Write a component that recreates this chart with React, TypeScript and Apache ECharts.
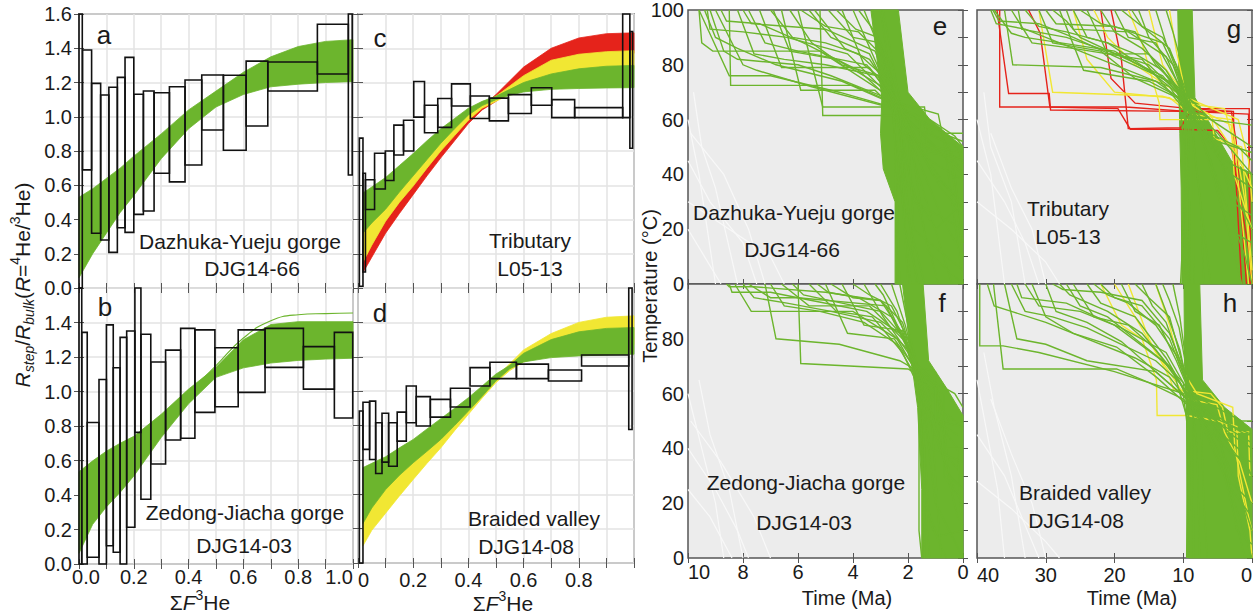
import React, { useEffect, useRef } from 'react';
import * as echarts from 'echarts';

// ---------------- Ratio-evolution panels (a–d) ----------------
const F_AB = [0, 0.05, 0.1, 0.15, 0.2, 0.3, 0.4, 0.5, 0.6, 0.7, 0.8, 0.9, 1.0];
const A_GREEN_UP = [0.53, 0.58, 0.64, 0.7, 0.77, 0.9, 1.04, 1.15, 1.26, 1.35, 1.41, 1.44, 1.45];
const A_GREEN_LO = [0.06, 0.2, 0.32, 0.44, 0.54, 0.755, 0.93, 1.057, 1.13, 1.175, 1.19, 1.2, 1.205];
const B_GREEN_UP = [0.535, 0.598, 0.654, 0.7, 0.74, 0.868, 1.014, 1.14, 1.3, 1.388, 1.405, 1.405, 1.405];
const B_GREEN_LO = [0.062, 0.23, 0.331, 0.415, 0.51, 0.733, 0.929, 1.082, 1.137, 1.165, 1.18, 1.188, 1.193];
const B_OUTLIER = [[0.45, 1.07], [0.5, 1.15], [0.6, 1.31], [0.7, 1.41], [0.8, 1.445], [0.9, 1.452], [1.0, 1.455]];

const F_CD = [0.018, 0.05, 0.1, 0.15, 0.2, 0.25, 0.3, 0.35, 0.4, 0.45, 0.5, 0.55, 0.6, 0.7, 0.8, 0.9, 1.0];
const C_RED_UP = [0.2, 0.28, 0.42, 0.53, 0.63, 0.73, 0.83, 0.92, 1.0, 1.06, 1.13, 1.21, 1.29, 1.4, 1.46, 1.485, 1.49];
const C_RED_LO = [0.09, 0.18, 0.32, 0.435, 0.545, 0.655, 0.76, 0.86, 0.96, 1.04, 1.09, 1.15, 1.2, 1.29, 1.34, 1.36, 1.37];
const C_YEL_UP = [0.36, 0.42, 0.5, 0.59, 0.68, 0.78, 0.87, 0.95, 1.03, 1.08, 1.12, 1.18, 1.24, 1.33, 1.365, 1.38, 1.386];
const C_YEL_LO = [0.15, 0.25, 0.39, 0.5, 0.595, 0.7, 0.8, 0.89, 0.98, 1.05, 1.09, 1.13, 1.17, 1.22, 1.25, 1.27, 1.28];
const C_GRN_UP = [0.555, 0.59, 0.645, 0.715, 0.785, 0.86, 0.93, 0.99, 1.05, 1.09, 1.12, 1.16, 1.2, 1.25, 1.28, 1.295, 1.3];
const C_GRN_LO = [0.32, 0.38, 0.46, 0.56, 0.655, 0.75, 0.845, 0.93, 1.01, 1.065, 1.1, 1.125, 1.145, 1.16, 1.165, 1.168, 1.17];
const D_YEL_UP = [0.4, 0.45, 0.52, 0.6, 0.66, 0.72, 0.78, 0.85, 0.93, 1.0, 1.08, 1.16, 1.24, 1.335, 1.4, 1.43, 1.438];
const D_YEL_LO = [0.1, 0.19, 0.29, 0.39, 0.486, 0.58, 0.67, 0.77, 0.865, 0.96, 1.05, 1.12, 1.17, 1.22, 1.25, 1.26, 1.27];
const D_GRN_UP = [0.555, 0.58, 0.618, 0.67, 0.719, 0.78, 0.84, 0.9, 0.962, 1.03, 1.1, 1.15, 1.22, 1.3, 1.345, 1.365, 1.37];
const D_GRN_LO = [0.23, 0.32, 0.427, 0.51, 0.583, 0.65, 0.719, 0.8, 0.884, 0.97, 1.06, 1.13, 1.17, 1.195, 1.205, 1.21, 1.215];

// step boxes: [F start, F end, R low, R high]
const BOXES_A = [
  [0, 0.012, 0, 1.62], [0.013, 0.046, 0.69, 1.39], [0.046, 0.079, 0.32, 1.195], [0.079, 0.109, 0.28, 1.127],
  [0.109, 0.14, 0.208, 1.172], [0.14, 0.168, 0.352, 1.23], [0.168, 0.2, 0.325, 1.347], [0.2, 0.235, 0.43, 1.131],
  [0.235, 0.274, 0.45, 1.15], [0.274, 0.33, 0.67, 1.14], [0.33, 0.387, 0.62, 1.175], [0.387, 0.448, 0.718, 1.215],
  [0.448, 0.527, 0.923, 1.244], [0.527, 0.61, 0.804, 1.242], [0.61, 0.689, 0.946, 1.325], [0.689, 0.87, 1.15, 1.32],
  [0.87, 0.983, 1.25, 1.54], [0.983, 0.997, 0.66, 1.62],
];
const BOXES_B = [
  [0, 0.01, 0, 1.62], [0.01, 0.03, 0, 1.343], [0.03, 0.073, 0.039, 0.82], [0.073, 0.1, 0, 1.07],
  [0.1, 0.125, 0.106, 1.386], [0.125, 0.15, 0.068, 1.138], [0.15, 0.174, 0, 1.314], [0.174, 0.204, 0.213, 1.351],
  [0.204, 0.226, 0.763, 1.7], [0.226, 0.262, 0.375, 1.332], [0.262, 0.316, 0.58, 1.171], [0.316, 0.371, 0.719, 1.24],
  [0.371, 0.423, 0.729, 1.366], [0.423, 0.496, 0.879, 1.357], [0.496, 0.581, 0.912, 1.254], [0.581, 0.679, 0.995, 1.357],
  [0.679, 0.819, 1.14, 1.366], [0.819, 0.932, 1.014, 1.26], [0.932, 0.999, 0.846, 1.343],
];
const BOXES_C = [
  [0.005, 0.018, 0.01, 0.875], [0.018, 0.027, 0.093, 0.67], [0.027, 0.06, 0.458, 0.632], [0.06, 0.099, 0.578, 0.787],
  [0.099, 0.13, 0.628, 0.8], [0.13, 0.165, 0.777, 0.951], [0.165, 0.202, 0.8, 0.98], [0.202, 0.241, 0.998, 1.206],
  [0.241, 0.289, 0.907, 1.067], [0.289, 0.339, 0.938, 1.107], [0.339, 0.407, 1.063, 1.192], [0.407, 0.476, 0.99, 1.121],
  [0.476, 0.545, 0.976, 1.109], [0.545, 0.628, 1.019, 1.129], [0.628, 0.702, 1.067, 1.169], [0.702, 0.785, 0.995, 1.1],
  [0.785, 0.959, 0.995, 1.053], [0.959, 0.985, 0.995, 1.62], [0.985, 0.995, 0.816, 1.497],
];
const BOXES_D = [
  [0.005, 0.018, 0, 0.884], [0.018, 0.042, 0.661, 0.935], [0.042, 0.064, 0.602, 0.942], [0.064, 0.087, 0.521, 0.816],
  [0.087, 0.111, 0.587, 0.871], [0.111, 0.142, 0.563, 0.816], [0.142, 0.175, 0.709, 0.878], [0.175, 0.211, 0.816, 1.03],
  [0.211, 0.262, 0.797, 0.968], [0.262, 0.335, 0.849, 0.952], [0.335, 0.406, 0.908, 1.017], [0.406, 0.478, 1.03, 1.137],
  [0.478, 0.574, 1.073, 1.168], [0.574, 0.69, 1.073, 1.157], [0.69, 0.81, 1.059, 1.123], [0.81, 0.981, 1.146, 1.21],
  [0.981, 0.993, 0.777, 1.62],
];

// ---------------- Thermal-history panels (e–h): [time Ma, temperature °C] ----------------
const E_CORE = [[3.35, 100], [2.35, 100], [2.0, 70], [1.2, 60], [0, 50], [0, 0], [2.47, 0], [2.47, 30], [2.9, 42], [3.0, 55], [2.95, 68]];
const E_GREEN = [
  [[9.6, 100], [9.5, 88], [9.1, 85], [5.2, 85], [2.6, 68], [2.2, 30], [1.9, 0]],
  [[9.6, 100], [8.5, 76], [7.0, 76], [4.5, 70], [2.4, 64], [1.0, 50], [0, 48]],
  [[8.5, 100], [8.45, 72.5], [4.0, 72.5], [2.5, 66], [2.3, 0]],
  [[7.8, 100], [7.2, 88], [6.0, 85], [3.5, 80], [2.4, 66], [0.5, 50], [0, 10]],
  [[7.4, 100], [6.6, 79], [3.4, 79], [2.3, 64], [1.2, 60], [0.3, 54], [0, 50]],
  [[6.6, 100], [5.9, 70.7], [3.2, 70.7], [2.3, 62], [0.4, 0]],
  [[6.0, 100], [5.1, 64.6], [1.4, 64.6], [1.3, 55], [0.7, 53], [0, 0]],
  [[5.2, 100], [5.1, 61.5], [2.4, 61.5], [2.1, 38], [1.0, 20], [0, 30]],
  [[4.9, 100], [4.0, 90], [3.0, 88], [2.5, 70], [2.2, 50], [0.9, 0]],
  [[4.4, 100], [3.6, 80], [2.6, 72], [2.3, 62], [1.8, 30], [0, 20]],
  [[4.0, 100], [2.9, 75], [2.3, 66], [0.9, 62], [0.7, 52], [0, 40]],
  [[3.6, 100], [3.0, 85], [2.5, 68], [2.0, 60], [1.3, 12], [0, 0]],
  [[3.3, 100], [2.6, 65], [2.0, 58], [0.2, 50], [0, 44]],
  [[9.0, 100], [8.0, 80], [7.5, 78], [5.5, 72], [2.5, 64], [2.4, 0]],
  [[8.0, 100], [7.7, 95], [5.0, 93], [3.2, 85], [2.2, 60], [0.8, 25], [0, 10]],
  [[2.9, 100], [2.4, 72], [2.0, 58], [1.8, 20], [0, 5]],
  [[6.9, 100], [6.3, 85], [4.6, 82], [2.6, 70], [2.4, 40], [1.4, 0]],
  [[5.6, 100], [4.8, 90], [3.4, 84], [2.5, 66], [1.6, 55], [0, 40]],
  [[3.0, 100], [2.7, 80], [2.2, 58], [1.2, 45], [0, 38]],
  [[9.3, 100], [9.2, 93], [8.0, 92], [6.4, 90], [4.2, 84], [2.5, 67], [1.4, 62], [1.3, 48], [0, 46]],
  [[9.4, 100], [9.0, 90], [8.2, 86], [6.8, 80], [4.4, 74], [2.6, 66], [2.3, 45], [2.0, 0]],
  [[8.8, 100], [8.6, 96], [7.4, 95], [5.8, 88], [3.8, 78], [2.5, 66], [1.5, 58], [0, 52]],
  [[7.0, 100], [6.2, 90], [5.0, 88], [3.8, 84], [2.7, 74], [2.3, 58], [1.7, 0]],
  [[6.3, 100], [5.5, 88], [4.4, 80], [3.0, 76], [2.4, 64], [0.6, 55], [0, 55]],
  [[5.9, 100], [5.0, 94], [3.8, 92], [2.8, 82], [2.3, 66], [2.1, 20], [1.6, 0]],
  [[4.6, 100], [3.9, 93], [3.1, 90], [2.6, 75], [2.2, 62], [1.1, 40], [0, 30]],
  [[8.2, 100], [7.6, 84], [6.5, 82], [5.0, 80], [3.1, 76], [2.4, 63], [0.8, 35], [0, 25]],
  [[9.2, 100], [8.7, 85], [8.2, 82], [6.0, 80], [4.8, 76], [2.8, 68], [2.2, 55], [1.2, 50], [0.4, 48], [0, 15]],
  [[3.8, 100], [3.2, 92], [2.6, 80], [2.2, 65], [1.5, 48], [0.2, 30], [0, 28]],
  [[5.4, 100], [4.3, 86], [3.4, 82], [2.6, 70], [2.1, 62], [1.6, 60], [1.5, 50], [0, 45]],
];
const E_PALE = [
  [[10, 60], [9.6, 40], [9.3, 20], [9.0, 0]], [[10, 45], [9.2, 30], [8.0, 15], [7.5, 0]],
  [[10, 30], [8.5, 20], [7.0, 10], [6.5, 0]], [[9.8, 70], [9.5, 50], [9.0, 35], [8.2, 0]],
  [[10, 20], [9.4, 10], [8.8, 0]], [[9.9, 55], [8.7, 40], [7.8, 20], [7.2, 0]],
];
const F_CORE = [[2.2, 100], [1.45, 100], [1.25, 72], [0.6, 62], [0, 52], [0, 0], [1.5, 0], [1.5, 25], [1.65, 55], [1.85, 70]];
const F_GREEN = [
  [[8.5, 100], [8.4, 97], [7.0, 97], [5.5, 94], [3.5, 90], [2.0, 80], [1.6, 65], [1.3, 10], [1.2, 0]],
  [[8.3, 100], [7.7, 90], [4.0, 90], [2.4, 80], [1.7, 68], [0.9, 62], [0.8, 40], [0, 30]],
  [[7.2, 100], [6.8, 80], [4.5, 78], [2.3, 72], [1.6, 68], [1.2, 13], [0.6, 0]],
  [[6.0, 100], [5.9, 71], [2.0, 69], [1.5, 66], [0.5, 50], [0, 50]],
  [[5.6, 100], [4.6, 90], [3.3, 88], [2.2, 75], [1.5, 60], [1.0, 20], [0, 0]],
  [[5.0, 100], [4.2, 82], [2.5, 80], [1.8, 70], [1.4, 40], [1.4, 0]],
  [[4.4, 100], [3.6, 85], [2.2, 83], [1.7, 65], [0.7, 60], [0.7, 30], [0, 20]],
  [[3.6, 100], [2.9, 88], [2.0, 75], [1.3, 55], [0.2, 40], [0, 0]],
  [[3.0, 100], [2.4, 90], [1.8, 72], [1.1, 65], [0.6, 40], [0, 40]],
  [[2.6, 100], [2.1, 85], [1.6, 66], [1.4, 20], [0.9, 8], [0, 10]],
  [[6.6, 100], [5.6, 92], [3.4, 92], [2.0, 78], [1.6, 60], [1.6, 10], [1.5, 0]],
  [[4.8, 100], [4.0, 95], [3.0, 94], [2.2, 82], [1.4, 55], [0.3, 25], [0, 22]],
  [[7.8, 100], [7.0, 95], [6.0, 95], [2.8, 92], [1.9, 75], [1.2, 60], [0.8, 0]],
  [[2.3, 100], [1.9, 80], [1.4, 60], [0.3, 50], [0, 48]],
  [[3.2, 100], [2.9, 96], [1.7, 70], [1.0, 68], [0.9, 50], [0.1, 48]],
  [[8.0, 100], [7.6, 95], [6.4, 93], [4.8, 90], [3.0, 86], [2.0, 76], [1.7, 68], [1.5, 45], [1.4, 0]],
  [[7.0, 100], [6.5, 92], [5.2, 90], [3.6, 86], [2.4, 78], [1.7, 66], [0.8, 58], [0.5, 30], [0, 25]],
  [[6.2, 100], [5.8, 96], [4.4, 93], [3.0, 90], [2.1, 80], [1.5, 62], [1.2, 40], [0, 35]],
  [[5.3, 100], [4.9, 97], [3.8, 95], [2.6, 88], [1.8, 72], [1.2, 65], [0.3, 60], [0, 55]],
  [[4.0, 100], [3.4, 96], [2.6, 92], [2.0, 80], [1.5, 65], [0.9, 45], [0.2, 15], [0, 12]],
  [[8.6, 100], [8.5, 99], [7.6, 99], [5.0, 97], [3.0, 94], [2.2, 86], [1.7, 70], [1.0, 62], [1.0, 50], [0.2, 45]],
];
const F_PALE = [
  [[10, 60], [9.5, 40], [9.0, 20], [8.7, 0]], [[10, 40], [9.0, 25], [8.2, 10], [7.8, 0]],
  [[9.6, 65], [9.2, 45], [8.5, 25], [8.0, 0]], [[10, 25], [9.2, 15], [8.4, 0]],
  [[9.9, 50], [8.8, 35], [7.6, 15], [7.0, 0]],
];
const G_CORE = [[10.8, 100], [8.7, 100], [8.3, 68], [6, 58], [3, 45], [0, 40], [0, 0], [10.2, 0], [10.3, 35], [10.5, 55], [10.6, 68]];
const G_RED = [
  [[36.7, 100], [36.7, 64.6], [18.3, 64.6], [18.0, 56.7], [10.4, 57], [8.8, 64], [0.4, 64], [0.4, 50], [0.2, 0]],
  [[37.1, 100], [35.4, 69.5], [29.5, 69.5], [29.3, 63.5], [10, 63], [2.7, 63], [2.6, 50], [1.5, 0]],
  [[32.5, 100], [30.8, 91.5], [29.4, 64.6], [19.5, 64], [17.7, 56.5], [10.4, 56.5], [5, 56], [3, 50], [0.3, 10], [0, 0]],
  [[20.5, 100], [19.0, 82], [18.3, 64.6], [9.5, 63], [0.5, 62], [0.3, 0]],
  [[22, 100], [20.5, 75], [17, 66], [9, 64], [3.0, 63], [2.3, 52], [0.8, 0]],
];
const G_YELLOW = [
  [[31, 100], [29, 70], [13, 68.5], [10, 66], [4, 64], [2.5, 50], [0.5, 0]],
  [[26, 100], [24, 82], [20, 70], [12, 68], [9, 62], [3, 60], [1, 30], [0, 0]],
  [[18, 100], [16, 88], [13.5, 66], [13.4, 60], [5.8, 60], [5.5, 53], [1.5, 50], [0.5, 20], [0, 5]],
  [[15, 100], [13, 80], [10, 70], [8.6, 65], [6.2, 62], [2, 46], [0, 35]],
  [[23, 100], [21, 90], [17, 80], [11, 70], [8, 64], [3.0, 58], [2.6, 40], [0, 20]],
  [[12, 100], [11, 85], [9.5, 68], [2, 60], [0.5, 45], [0, 30]],
];
const G_GREEN = [
  [[37.7, 100], [36.8, 96], [31, 95], [26, 90], [12, 74], [9, 66], [8, 40], [6, 0]],
  [[37.5, 100], [35, 91.5], [33, 90], [20, 85], [11, 72], [9.5, 60], [9, 0]],
  [[36, 100], [34.8, 80], [22, 79], [14, 74], [9, 65], [3, 55], [0, 50]],
  [[34, 100], [33.5, 93], [27, 90], [15, 80], [10, 68], [8.5, 62], [8.5, 10], [8.4, 0]],
  [[31, 100], [29, 88], [22, 85], [17, 75], [10, 67], [5, 55], [0, 40]],
  [[29, 100], [27, 96], [25, 90], [13, 76], [9.5, 66], [7, 58], [2, 30], [0, 20]],
  [[28, 100], [24.5, 78], [15, 74], [9, 66], [9, 30], [9.2, 0]],
  [[25, 100], [22, 95], [17, 92], [14, 80], [10, 70], [6, 60], [0, 58]],
  [[24, 100], [21, 84], [15, 84], [11, 72], [8.8, 64], [1, 10], [0, 0]],
  [[20, 100], [18, 90], [14, 88], [10.5, 72], [9.2, 60], [9.5, 0]],
  [[19, 100], [17, 96], [12, 86], [9.5, 70], [7.5, 55], [3.5, 20], [0, 15]],
  [[16.5, 100], [15, 90], [11.5, 80], [9.8, 68], [9.5, 50], [10, 0]],
  [[14, 100], [12.5, 88], [10.5, 75], [9, 62], [5, 50], [3, 30], [0, 25]],
  [[35, 100], [32, 88], [26, 86], [16, 82], [10.6, 66], [9.5, 45], [10.4, 0]],
  [[30, 100], [28.5, 95], [20, 94], [13, 88], [10, 72], [8.5, 60], [4, 45], [0, 40]],
  [[27, 100], [26, 93], [18, 92], [12.5, 83], [9.5, 66], [6, 45], [1.5, 0]],
  [[38, 100], [37.2, 95], [33, 93], [28, 88], [20, 80], [12, 72], [9.8, 64], [9.7, 20], [9.8, 0]],
  [[33, 100], [31, 94], [27, 92], [21, 88], [15, 78], [11, 70], [9, 62], [6, 50], [3, 40], [0, 35]],
  [[26, 100], [24, 90], [21, 88], [17, 84], [13, 78], [10.2, 68], [9.2, 56], [9.0, 0]],
  [[22, 100], [20, 92], [16, 86], [12.5, 78], [10, 68], [8.8, 60], [5, 52], [0, 48]],
  [[17.5, 100], [16, 94], [13, 90], [11, 80], [9.6, 68], [8.8, 58], [7.5, 30], [7, 0]],
  [[12.5, 100], [11.5, 92], [10.2, 80], [9.3, 66], [7, 56], [2, 50], [0, 45]],
];
const G_PALE = [
  [[40, 60], [38, 40], [37, 20], [36, 0]], [[40, 45], [36, 30], [33, 15], [31, 0]],
  [[39, 70], [38, 50], [35, 30], [33, 0]], [[40, 30], [35, 20], [30, 8], [28, 0]],
  [[38, 55], [35, 35], [32, 20], [30, 0]],
];
const H_CORE = [[9.9, 100], [7.6, 100], [7.2, 65], [4, 55], [0, 47], [0, 0], [9.2, 0], [9.3, 45], [9.6, 58], [9.8, 70]];
const H_YELLOW = [
  [[22, 100], [19, 85], [16, 80], [13.9, 65], [13.8, 52], [9.5, 52], [5, 50], [2.2, 48], [2.0, 30], [0.3, 10], [0, 0]],
  [[18, 100], [15, 80], [12, 66], [11.4, 61.5], [6, 60], [4.3, 55], [3.5, 46], [0.5, 46], [0.3, 30]],
  [[20, 100], [17, 88], [14, 75], [11, 64], [9.5, 58], [5.1, 56], [4, 46], [1.8, 35], [0, 20]],
  [[14, 100], [12, 85], [10.5, 70], [8, 60], [2.8, 55], [2.5, 40], [0.5, 15], [0, 10]],
];
const H_GREEN = [
  [[39.6, 100], [39.6, 77.4], [36.2, 77.4], [31, 75], [20, 68], [10, 60], [9, 40], [9.2, 0]],
  [[37.6, 100], [36.2, 69], [19.7, 69], [15, 64], [10, 58], [7, 50], [4, 30], [0, 20]],
  [[36, 100], [34.2, 80], [30, 78], [24, 72], [14, 68], [9.5, 58], [9.3, 10], [9.2, 0]],
  [[34.2, 100], [33.5, 95], [27, 93], [20, 85], [12, 70], [9, 58], [6, 50], [2, 25], [0, 10]],
  [[32, 100], [30, 88], [26, 82], [19.7, 77], [13.9, 66], [9, 55], [0, 45]],
  [[30, 100], [28.5, 90], [24, 86], [19, 79], [14, 68], [8, 55], [5, 40], [0, 0]],
  [[28, 100], [26.5, 96], [21, 90], [16, 82], [11.4, 68], [9.3, 50], [9.5, 0]],
  [[26, 100], [23, 88], [18, 85], [14, 76], [10, 62], [5.1, 50], [2.2, 10], [0, 5]],
  [[24, 100], [22, 93], [17, 88], [12.5, 73], [9.5, 60], [3, 45], [0, 40]],
  [[22, 100], [20, 95], [16, 92], [12, 80], [9.5, 64], [7.5, 56], [7, 20], [6.5, 0]],
  [[19, 100], [17, 90], [13.5, 85], [11, 72], [9, 60], [1.5, 50], [0, 50]],
  [[17, 100], [15, 95], [12, 88], [10, 70], [8.6, 56], [4, 30], [1, 0]],
  [[14, 100], [12.5, 90], [10.5, 76], [9.3, 62], [8.5, 52], [5.1, 48], [3, 25], [0, 15]],
  [[11.5, 100], [10.5, 88], [9.5, 70], [9, 55], [2, 40], [0, 30]],
  [[33, 100], [31, 92], [25, 90], [19, 84], [12.5, 75], [10, 64], [9.2, 52], [9.4, 0]],
  [[29, 100], [27.5, 98], [22, 97], [16, 94], [12, 82], [9.8, 68], [8, 52], [3, 38], [0, 35]],
  [[38.5, 100], [37.5, 92], [35, 90], [30, 86], [24, 80], [17, 73], [12, 66], [9.5, 58], [9.4, 0]],
  [[35, 100], [33, 90], [29, 88], [24, 84], [19, 78], [14, 72], [10.5, 64], [9, 56], [4, 48], [0, 42]],
  [[27, 100], [25, 92], [21, 88], [17, 80], [13, 72], [10, 64], [8.6, 58], [8.5, 0]],
  [[23, 100], [21, 96], [18, 93], [14, 85], [11, 74], [9.5, 64], [7, 54], [3, 40], [0, 30]],
  [[16, 100], [14.5, 92], [12.5, 86], [10.5, 72], [9.2, 62], [7, 55], [1, 45], [0, 45]],
  [[13, 100], [12, 94], [10.6, 84], [9.6, 70], [8.8, 58], [8, 40], [7.6, 0]],
];
const H_PALE = [
  [[40, 65], [38.5, 45], [37, 25], [36, 0]], [[40, 45], [36, 30], [33, 12], [31, 0]],
  [[39, 75], [37.5, 55], [35, 30], [33, 0]], [[40, 28], [35, 18], [30, 6], [28, 0]],
  [[38, 58], [35, 38], [32, 20], [30, 0]],
];

// ---------------- tick values ----------------
const R_MAX = 1.6;
const T_MAX = 100;
const TIME_MAX_EF = 10;
const TIME_MAX_GH = 40;

// ---------------- styling ----------------
const GREEN = '#6cb52d';
const YELLOW = '#f1e733';
const RED = '#e5231b';
const PALE = '#f8f8f8';
const FONT = '"Liberation Sans", Arial, Helvetica, sans-serif';
const TXT = '#1a1a1a';
const FRAME = '#555555';

const GRIDS = [
  { left: 79, top: 14, width: 274, height: 274 },
  { left: 79, top: 288, width: 274, height: 276 },
  { left: 358, top: 14, width: 276, height: 274 },
  { left: 358, top: 288, width: 276, height: 275 },
  { left: 688, top: 10, width: 275, height: 274 },
  { left: 688, top: 284, width: 275, height: 274 },
  { left: 977, top: 10, width: 275, height: 274 },
  { left: 977, top: 284, width: 275, height: 274 },
];

function buildOption() {
  const grid = GRIDS.map((g, i) => ({
    ...g,
    show: true,
    borderColor: FRAME,
    borderWidth: 1.5,
    backgroundColor: i >= 4 ? '#ececec' : '#ffffff',
    containLabel: false,
    outerBoundsMode: 'none',
  }));

  const labelBase = { fontSize: 20, color: TXT, fontFamily: FONT };
  const xAxis: any[] = [];
  const yAxis: any[] = [];
  const tick = { show: true, inside: true, length: 5, lineStyle: { color: FRAME, width: 1 } };

  for (let i = 0; i < 8; i++) {
    const left = i < 4;
    const isBottom = i % 2 === 1;
    const xmax = left ? 1 : i < 6 ? TIME_MAX_EF : TIME_MAX_GH;
    const xint = left ? 0.1 : i < 6 ? 2 : 10;
    let xfmt: any = () => '';
    if (i === 1) xfmt = (v: number) => {
      const k = Math.round(v * 10);
      if (k === 0) return '{p|0.0}';
      return k % 2 === 0 ? v.toFixed(1) : '';
    };
    if (i === 3) xfmt = (v: number) => {
      const k = Math.round(v * 10);
      if (k === 0) return '0';
      if (k === 10) return '';
      return k % 2 === 0 ? v.toFixed(1) : '';
    };
    if (i === 5 || i === 7) xfmt = (v: number) => String(v);
    const align: any = {};
    if (i === 1) { align.alignMaxLabel = 'right'; align.rich = { p: { ...labelBase, padding: [0, 0, 0, 14] } }; }
    if (i === 3) align.alignMinLabel = 'left';
    if (i === 5) align.alignMaxLabel = 'left';
    if (i === 7) { align.alignMaxLabel = 'left'; align.alignMinLabel = 'right'; }
    xAxis.push({
      type: 'value', gridIndex: i, min: 0, max: xmax, interval: xint, inverse: !left,
      axisLine: { show: false }, axisTick: tick,
      splitLine: { show: left, lineStyle: { color: '#e3e3e3', width: 1.5 } },
      axisLabel: {
        show: isBottom, interval: 0, formatter: xfmt, ...labelBase, ...align,
        margin: i === 1 ? 3 : i === 3 ? 7 : i === 5 ? 4 : 7,
      },
    });
    let yfmt: any = () => '';
    if (i === 0) yfmt = (v: number) => v.toFixed(1);
    if (i === 1) yfmt = (v: number) => (v > 1.59 ? '' : v.toFixed(1));
    if (i === 4) yfmt = (v: number) => (v % 20 === 0 ? String(v) : '');
    if (i === 5) yfmt = (v: number) => (v % 20 === 0 && v < 100 ? String(v) : '');
    yAxis.push({
      type: 'value', gridIndex: i, min: 0, max: left ? R_MAX : T_MAX, interval: left ? 0.2 : 10,
      axisLine: { show: false }, axisTick: tick,
      splitLine: { show: left, lineStyle: { color: '#e3e3e3', width: 1.5 } },
      axisLabel: { show: i === 0 || i === 1 || i === 4 || i === 5, interval: 0, formatter: yfmt, ...labelBase, margin: left ? 7 : 4 },
    });
  }
  for (let i = 0; i < 8; i++) {
    const left = i < 4;
    xAxis.push({
      type: 'value', gridIndex: i, position: 'top', min: 0,
      max: left ? 1 : i < 6 ? TIME_MAX_EF : TIME_MAX_GH, interval: left ? 0.1 : i < 6 ? 2 : 10, inverse: !left,
      axisLine: { show: false }, axisTick: tick, axisLabel: { show: false }, splitLine: { show: false },
    });
    yAxis.push({
      type: 'value', gridIndex: i, position: 'right', min: 0, max: left ? R_MAX : T_MAX, interval: left ? 0.2 : 10,
      axisLine: { show: false }, axisTick: tick, axisLabel: { show: false }, splitLine: { show: false },
    });
  }

  const series: any[] = [];
  const band = (gi: number, F: number[], up: number[], lo: number[], color: string, z: number) => ({
    type: 'custom', xAxisIndex: gi, yAxisIndex: gi, silent: true, z, animation: false,
    data: [[F[0], lo[0]]],
    renderItem: (_p: any, api: any) => {
      const pts: number[][] = [];
      for (let k = 0; k < F.length; k++) pts.push(api.coord([F[k], up[k]]));
      for (let k = F.length - 1; k >= 0; k--) pts.push(api.coord([F[k], lo[k]]));
      return { type: 'polygon', shape: { points: pts }, style: { fill: color, stroke: color, lineWidth: 0.8 } };
    },
  });
  const boxes = (gi: number, data: number[][]) => ({
    type: 'custom', xAxisIndex: gi, yAxisIndex: gi, silent: true, z: 6, animation: false,
    data, encode: { x: [0, 1], y: [2, 3] },
    renderItem: (_p: any, api: any) => {
      const top = Math.min(api.value(3), R_MAX);
      const p0 = api.coord([api.value(0), top]);
      const p1 = api.coord([api.value(1), api.value(2)]);
      return {
        type: 'rect',
        shape: { x: p0[0], y: p0[1], width: p1[0] - p0[0], height: p1[1] - p0[1] },
        style: { fill: 'none', stroke: '#111111', lineWidth: 1.6 },
      };
    },
  });
  const core = (gi: number, pts: number[][]) => ({
    type: 'custom', xAxisIndex: gi, yAxisIndex: gi, silent: true, z: 3, animation: false,
    data: [pts[0]],
    renderItem: (_p: any, api: any) => ({
      type: 'polygon',
      shape: { points: pts.map((p) => api.coord(p)) },
      style: { fill: GREEN, stroke: GREEN, lineWidth: 1 },
    }),
  });
  const paths = (gi: number, data: number[][][], color: string, z: number, width = 1.4) => ({
    type: 'lines', coordinateSystem: 'cartesian2d', xAxisIndex: gi, yAxisIndex: gi, polyline: true,
    silent: true, z, animation: false,
    data: data.map((c) => ({ coords: c })),
    lineStyle: { color, width, opacity: 1 },
  });

  // a
  series.push(band(0, F_AB, A_GREEN_UP, A_GREEN_LO, GREEN, 3));
  series.push(boxes(0, BOXES_A));
  // b
  series.push(band(1, F_AB, B_GREEN_UP, B_GREEN_LO, GREEN, 3));
  series.push({
    type: 'line', xAxisIndex: 1, yAxisIndex: 1, data: B_OUTLIER, smooth: true, symbol: 'none', silent: true, z: 4,
    lineStyle: { color: GREEN, width: 1.2 },
  });
  series.push(boxes(1, BOXES_B));
  // c
  series.push(band(2, F_CD, C_RED_UP, C_RED_LO, RED, 2));
  series.push(band(2, F_CD, C_YEL_UP, C_YEL_LO, YELLOW, 3));
  series.push(band(2, F_CD, C_GRN_UP, C_GRN_LO, GREEN, 4));
  series.push(boxes(2, BOXES_C));
  // d
  series.push(band(3, F_CD, D_YEL_UP, D_YEL_LO, YELLOW, 3));
  series.push(band(3, F_CD, D_GRN_UP, D_GRN_LO, GREEN, 4));
  series.push(boxes(3, BOXES_D));
  // e
  series.push(paths(4, E_PALE, PALE, 2, 1.2));
  series.push(core(4, E_CORE));
  series.push(paths(4, E_GREEN, GREEN, 4));
  // f
  series.push(paths(5, F_PALE, PALE, 2, 1.2));
  series.push(core(5, F_CORE));
  series.push(paths(5, F_GREEN, GREEN, 4));
  // g
  series.push(paths(6, G_PALE, PALE, 2, 1.2));
  series.push(core(6, G_CORE));
  series.push(paths(6, G_RED, RED, 4));
  series.push(paths(6, G_YELLOW, YELLOW, 5));
  series.push(paths(6, G_GREEN, GREEN, 6));
  // h
  series.push(paths(7, H_PALE, PALE, 2, 1.2));
  series.push(core(7, H_CORE));
  series.push(paths(7, H_YELLOW, YELLOW, 5));
  series.push(paths(7, H_GREEN, GREEN, 6));

  const t = (x: number, y: number, text: string, size: number) => ({
    type: 'text', x, y, z: 100, silent: true,
    style: {
      text, fill: TXT, font: `${size}px ${FONT}`,
      align: 'center', verticalAlign: 'middle', textAlign: 'center', textVerticalAlign: 'middle',
    },
  });
  const richBase = { fontFamily: FONT, fill: TXT, color: TXT, lineHeight: 28 };
  const rich = {
    n: { ...richBase, fontSize: 21, verticalAlign: 'middle' },
    i: { ...richBase, fontSize: 21, fontStyle: 'italic', verticalAlign: 'middle' },
    sub: { ...richBase, fontSize: 14, fontStyle: 'italic', verticalAlign: 'bottom' },
    sup: { ...richBase, fontSize: 14, verticalAlign: 'top' },
  };
  const rt = (x: number, y: number, text: string, rotation = 0) => ({
    type: 'text', x, y, rotation, z: 100, silent: true,
    style: { text, rich, align: 'center', verticalAlign: 'middle', textAlign: 'center', textVerticalAlign: 'middle' },
  });

  const graphic = [
    t(104, 35, 'a', 26), t(105, 307, 'b', 26), t(380, 38, 'c', 26), t(380, 313, 'd', 26),
    t(940, 26, 'e', 26), t(942, 303, 'f', 26), t(1234, 29, 'g', 26), t(1230, 303, 'h', 26),
    t(240, 241, 'Dazhuka-Yueju gorge', 21), t(252, 268, 'DJG14-66', 21),
    t(245, 512, 'Zedong-Jiacha gorge', 21), t(244, 545, 'DJG14-03', 21),
    t(530, 240, 'Tributary', 21), t(530, 268, 'L05-13', 21),
    t(534, 518, 'Braided valley', 21), t(526, 546, 'DJG14-08', 21),
    t(794, 212, 'Dazhuka-Yueju gorge', 21), t(792, 249, 'DJG14-66', 21),
    t(806, 482, 'Zedong-Jiacha gorge', 21), t(804, 522, 'DJG14-03', 21),
    t(1068, 208, 'Tributary', 21), t(1068, 236, 'L05-13', 21),
    t(1085, 492, 'Braided valley', 21), t(1076, 520, 'DJG14-08', 21),
    t(847, 598, 'Time (Ma)', 20), t(1132, 598, 'Time (Ma)', 20),
    { ...t(0, 0, 'Temperature (°C)', 20), x: 650, y: 286, rotation: Math.PI / 2 },
    rt(200, 602, '{n|Σ}{i|F}{sup|3}{n|He}'),
    rt(503, 603, '{n|Σ}{i|F}{sup|3}{n|He}'),
    rt(22, 285, '{i|R}{sub|step}{n|/}{i|R}{sub|bulk}{n|(}{i|R}{n|=}{sup|4}{n|He/}{sup|3}{n|He)}', Math.PI / 2),
  ];

  return { animation: false, backgroundColor: '#ffffff', grid, xAxis, yAxis, series, graphic };
}

export default function App() {
  const ref = useRef<HTMLDivElement>(null);
  useEffect(() => {
    if (!ref.current) return;
    const chart = echarts.init(ref.current, undefined, { renderer: 'svg' });
    chart.setOption(buildOption() as any);
    return () => chart.dispose();
  }, []);
  return <div ref={ref} style={{ position: 'fixed', left: 0, top: 0, width: 1253, height: 613, background: '#fff' }} />;
}
